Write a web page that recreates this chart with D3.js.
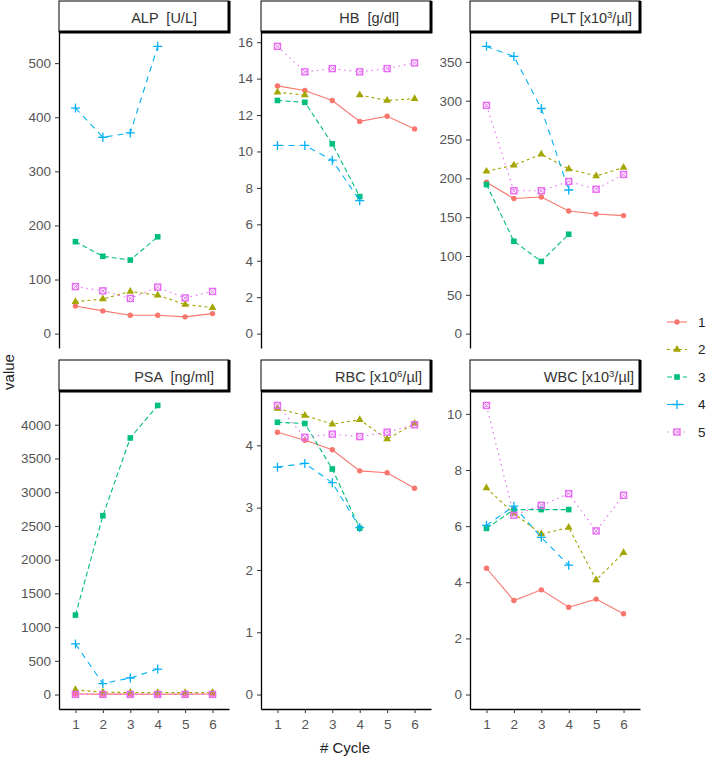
<!DOCTYPE html>
<html>
<head>
<meta charset="utf-8">
<script src="https://cdn.jsdelivr.net/npm/d3@7"></script>
<style>
  body { margin: 0; background: #fff; }
  svg { display: block; font-family: "Liberation Sans", Arial, sans-serif; }
  .strip text { white-space: pre; }
</style>
</head>
<body>
<svg id="chart" width="709" height="758"></svg>
<script>
// cycles on the x axis, one series per patient
var cycles = [1, 2, 3, 4, 5, 6];
var patients = ["1", "2", "3", "4", "5"];
var colors = ["#F8766D", "#A3A500", "#00BF7D", "#00B0F6", "#E76BF3"];

// values per patient (rows) for cycles 1..6, null = not measured
var alpValues = [
	[51, 42, 34, 34, 31, 37],
	[59, 64, 78, 71, 54, 48],
	[170, 143, 136, 179, null, null],
	[417, 363, 371, 531, null, null],
	[87, 79, 65, 86, 66, 78]
];
var hbValues = [
	[13.6, 13.35, 12.8, 11.65, 11.93, 11.24],
	[13.25, 13.1, null, 13.1, 12.8, 12.9],
	[12.8, 12.7, 10.42, 7.52, null, null],
	[10.33, 10.33, 9.52, 7.3, null, null],
	[15.77, 14.37, 14.55, 14.37, 14.55, 14.86]
];
var pltValues = [
	[195, 174, 176, 158, 154, 152],
	[209, 217, 231, 212, 203, 214],
	[192, 119, 93, 128, null, null],
	[370, 357, 290, 185, null, null],
	[294, 184, 184, 196, 186, 205]
];
var psaValues = [
	[8, 6, 6, 5, 6, 7],
	[70, 35, 30, 28, 28, 30],
	[1178, 2651, 3804, 4286, null, null],
	[751, 162, 245, 378, null, null],
	[2, 2, 2, 2, 2, 2]
];
var rbcValues = [
	[4.21, 4.08, 3.93, 3.59, 3.56, 3.31],
	[4.59, 4.48, 4.34, 4.41, 4.1, 4.35],
	[4.37, 4.35, 3.62, 2.67, null, null],
	[3.65, 3.71, 3.4, 2.68, null, null],
	[4.64, 4.13, 4.18, 4.14, 4.21, 4.33]
];
var wbcValues = [
	[4.5, 3.35, 3.73, 3.11, 3.4, 2.88],
	[7.36, 6.45, 5.72, 5.95, 4.08, 5.05],
	[5.92, 6.59, 6.59, 6.59, null, null],
	[6.03, 6.71, 5.6, 4.61, null, null],
	[10.3, 6.39, 6.74, 7.16, 5.83, 7.1]
];

// y tick labels per panel
var alpTicks = [0, 100, 200, 300, 400, 500];
var hbTicks = [0, 2, 4, 6, 8, 10, 12, 14, 16];
var pltTicks = [0, 50, 100, 150, 200, 250, 300, 350];
var psaTicks = [0, 500, 1000, 1500, 2000, 2500, 3000, 3500, 4000];
var rbcTicks = [0, 1, 2, 3, 4];
var wbcTicks = [0, 2, 4, 6, 8, 10];

// facet strip labels: [text before superscript, superscript, text after]
var stripLabels = [
	["ALP  [U/L]", "", ""],
	["HB  [g/dl]", "", ""],
	["PLT [x10", "3", "/\u00b5l]"],
	["PSA  [ng/ml]", "", ""],
	["RBC [x10", "6", "/\u00b5l]"],
	["WBC [x10", "3", "/\u00b5l]"]
];

var panels = [
	{ values : alpValues, ticks : alpTicks },
	{ values : hbValues, ticks : hbTicks },
	{ values : pltValues, ticks : pltTicks },
	{ values : psaValues, ticks : psaTicks },
	{ values : rbcValues, ticks : rbcTicks },
	{ values : wbcValues, ticks : wbcTicks }
];

var svg = d3.select("#chart");

var colX = [59, 261, 470];
var panelW = 170;
var rows = [
	{ stripTop : 1, plotBottom : 348 },
	{ stripTop : 360, plotBottom : 709 }
];
var stripH = 31;
var stripRightGap = [32, 32, 8, 15, 9, 6];
var dashes = [null, "3,3", "5,3", "6,5", "1.5,4"];
var fmt = function(d) { return String(d); };

function drawShape(sel, i, color) {
	if (i === 0) {
		sel.append("circle").attr("r", 2.7).attr("fill", color);
	} else if (i === 1) {
		sel.append("path").attr("d", d3.symbol(d3.symbolTriangle, 26)()).attr("fill", color);
	} else if (i === 2) {
		sel.append("rect").attr("x", -2.8).attr("y", -2.8).attr("width", 5.6).attr("height", 5.6).attr("fill", color);
	} else if (i === 3) {
		sel.append("path").attr("d", "M-4.5,0H4.5M0,-4.5V4.5")
			.attr("stroke", color).attr("stroke-width", 1.3).attr("fill", "none");
	} else {
		sel.append("rect").attr("x", -3).attr("y", -3).attr("width", 6).attr("height", 6)
			.attr("stroke", color).attr("stroke-width", 1.4).attr("fill", "none");
		sel.append("path").attr("d", "M-3,-3L3,3M-3,3L3,-3")
			.attr("stroke", color).attr("stroke-width", 0.8).attr("fill", "none");
	}
}

panels.forEach(function(p, k) {
	var row = rows[Math.floor(k / 3)];
	var left = colX[k % 3];
	var plotTop = row.stripTop + stripH;
	var g = svg.append("g");

	var x = d3.scalePoint()
		.domain(cycles)
		.range([left, left + panelW])
		.padding(0.6);

	var maxV = d3.max(p.values, function(s) { return d3.max(s); });
	var y = d3.scaleLinear()
		.domain([-0.05 * maxV, maxV * 1.05])
		.range([row.plotBottom, plotTop]);

	// strip
	var strip = g.append("g").attr("class", "strip");
	strip.append("rect")
		.attr("x", left).attr("y", row.stripTop)
		.attr("width", panelW).attr("height", stripH)
		.attr("fill", "#fff").attr("stroke", "#000").attr("stroke-width", 1);
	strip.append("path")
		.attr("d", "M" + (left + panelW) + "," + row.stripTop + "V" + (row.stripTop + stripH) + "H" + left)
		.attr("stroke", "#000").attr("stroke-width", 3).attr("fill", "none");
	var lab = stripLabels[k];
	var t = strip.append("text")
		.attr("x", left + panelW - stripRightGap[k])
		.attr("y", row.stripTop + stripH / 2 + 1)
		.attr("dy", "0.35em")
		.attr("text-anchor", "end")
		.attr("font-size", 14.5)
		.attr("fill", "#333");
	t.append("tspan").text(lab[0]);
	if (lab[1]) {
		t.append("tspan").attr("font-size", 9.5).attr("dy", "-0.45em").text(lab[1]);
		t.append("tspan").attr("dy", "0.3em").text(lab[2]);
	}

	// y axis
	var ya = g.append("g")
		.attr("transform", "translate(" + left + ",0)")
		.call(d3.axisLeft(y).tickValues(p.ticks).tickFormat(fmt).tickSize(4).tickPadding(4).tickSizeOuter(0));
	ya.select(".domain").attr("stroke", "#000").attr("stroke-width", 1.3);
	ya.selectAll(".tick line").attr("stroke", "#333");
	ya.selectAll(".tick text").attr("fill", "#555").attr("font-size", 13.5)
		.attr("font-family", "Liberation Sans, Arial, sans-serif");

	// x axis only on bottom row
	if (k >= 3) {
		var xa = g.append("g")
			.attr("transform", "translate(0," + row.plotBottom + ")")
			.call(d3.axisBottom(x).tickFormat(fmt).tickSize(4).tickPadding(6).tickSizeOuter(0));
		xa.select(".domain").attr("stroke", "#000").attr("stroke-width", 1.3);
		xa.selectAll(".tick line").attr("stroke", "#333");
		xa.selectAll(".tick text").attr("fill", "#555").attr("font-size", 13.5)
			.attr("font-family", "Liberation Sans, Arial, sans-serif");
	}

	var line = d3.line()
		.defined(function(d) { return d != null; })
		.x(function(d, i) { return x(cycles[i]); })
		.y(function(d) { return y(d); });

	p.values.forEach(function(series, i) {
		g.append("path")
			.datum(series)
			.attr("d", line)
			.attr("fill", "none")
			.attr("stroke", colors[i])
			.attr("stroke-width", 1.1)
			.attr("stroke-dasharray", dashes[i]);
		series.forEach(function(v, j) {
			if (v == null) return;
			var m = g.append("g").attr("transform", "translate(" + x(cycles[j]) + "," + y(v) + ")");
			drawShape(m, i, colors[i]);
		});
	});
});

// axis titles
svg.append("text")
	.attr("transform", "translate(14,372) rotate(-90)")
	.attr("text-anchor", "middle")
	.attr("font-size", 15)
	.attr("fill", "#222")
	.text("value");

svg.append("text")
	.attr("x", 345)
	.attr("y", 753)
	.attr("text-anchor", "middle")
	.attr("font-size", 15)
	.attr("fill", "#222")
	.text("# Cycle");

// legend
var legend = svg.append("g");
patients.forEach(function(name, i) {
	var ly = 322 + i * 27.5;
	var item = legend.append("g").attr("transform", "translate(667," + ly + ")");
	item.append("line")
		.attr("x1", 0).attr("x2", 20)
		.attr("stroke", colors[i])
		.attr("stroke-width", 1.1)
		.attr("stroke-dasharray", dashes[i]);
	drawShape(item.append("g").attr("transform", "translate(10,0)"), i, colors[i]);
	item.append("text")
		.attr("x", 31)
		.attr("dy", "0.35em")
		.attr("font-size", 13.5)
		.attr("fill", "#222")
		.text(name);
});
</script>
</body>
</html>
